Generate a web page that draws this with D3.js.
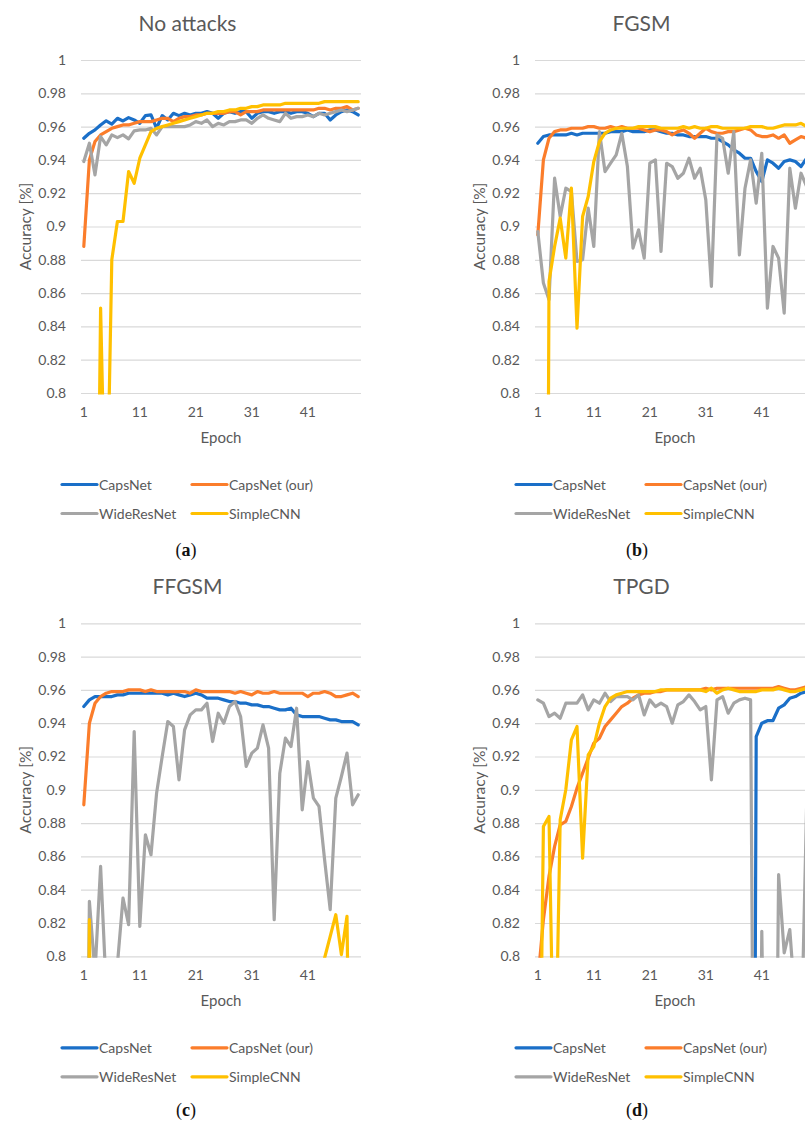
<!DOCTYPE html>
<html><head><meta charset="utf-8">
<script src="https://cdn.jsdelivr.net/npm/d3@7"></script>
<style>
body{margin:0;background:#fff}
svg{display:block}
text{font-family:Lato,"Open Sans",sans-serif;fill:#595959}
</style>
</head><body>
<svg id="chart" width="805" height="1124"></svg>
<script>
// ---------- data ----------
const epochs = [1,2,3,4,5,6,7,8,9,10,11,12,13,14,15,16,17,18,19,20,21,22,23,24,25,26,27,28,29,30,31,32,33,34,35,36,37,38,39,40,41,42,43,44,45,46,47,48,49,50];
const xTickLabels = [1,11,21,31,41];
const yTicks = [0.8,0.82,0.84,0.86,0.88,0.9,0.92,0.94,0.96,0.98,1];
const seriesNames = ["CapsNet","CapsNet (our)","WideResNet","SimpleCNN"];
const seriesColors = ["#1a6fc8","#fb7d2b","#a5a5a5","#ffc000"];
const panelTitles = ["No attacks","FGSM","FFGSM","TPGD"];
const panelCaptions = ["a","b","c","d"];

// (a) No attacks
const capsA = [0.953,0.956,0.958,0.961,0.9635,0.9615,0.965,0.9634,0.9654,0.964,0.962,0.9666,0.967,0.959,0.9666,0.964,0.968,0.9666,0.968,0.967,0.968,0.968,0.969,0.968,0.965,0.968,0.969,0.968,0.969,0.969,0.965,0.968,0.969,0.969,0.968,0.969,0.969,0.968,0.969,0.969,0.968,0.966,0.968,0.968,0.964,0.967,0.969,0.970,0.969,0.967];
const oursA = [0.888,0.940,0.951,0.955,0.957,0.959,0.960,0.961,0.961,0.962,0.963,0.963,0.963,0.964,0.965,0.965,0.963,0.965,0.966,0.966,0.967,0.967,0.968,0.968,0.968,0.968,0.969,0.969,0.967,0.969,0.969,0.969,0.970,0.970,0.970,0.970,0.970,0.970,0.970,0.970,0.970,0.970,0.971,0.971,0.970,0.971,0.971,0.972,0.970,0.971];
const wideA = [0.939,0.950,0.931,0.954,0.949,0.955,0.9534,0.955,0.9526,0.9574,0.958,0.958,0.959,0.955,0.960,0.960,0.960,0.960,0.960,0.961,0.963,0.962,0.964,0.960,0.962,0.961,0.963,0.963,0.964,0.964,0.962,0.965,0.967,0.965,0.964,0.963,0.968,0.965,0.966,0.966,0.967,0.966,0.968,0.967,0.968,0.969,0.970,0.969,0.970,0.971];
const simpleA = [0.30,0.45,0.55,0.851,0.70,0.880,0.903,0.903,0.933,0.926,0.941,0.949,0.957,0.959,0.960,0.961,0.962,0.963,0.964,0.965,0.966,0.967,0.968,0.968,0.969,0.969,0.970,0.970,0.971,0.971,0.972,0.972,0.973,0.973,0.973,0.973,0.974,0.974,0.974,0.974,0.974,0.974,0.974,0.975,0.975,0.975,0.975,0.975,0.975,0.975];

// (b) FGSM
const capsB = [0.950,0.954,0.955,0.955,0.955,0.955,0.956,0.955,0.956,0.956,0.956,0.956,0.956,0.957,0.957,0.957,0.958,0.957,0.957,0.957,0.958,0.958,0.957,0.956,0.956,0.955,0.955,0.954,0.954,0.954,0.954,0.953,0.953,0.951,0.949,0.946,0.944,0.941,0.941,0.933,0.927,0.940,0.938,0.935,0.939,0.940,0.939,0.936,0.941,0.942];
const oursB = [0.895,0.940,0.953,0.957,0.958,0.958,0.959,0.959,0.959,0.960,0.960,0.959,0.959,0.960,0.959,0.960,0.959,0.959,0.959,0.958,0.957,0.958,0.958,0.957,0.955,0.957,0.958,0.956,0.953,0.956,0.959,0.957,0.956,0.956,0.957,0.957,0.958,0.959,0.958,0.955,0.954,0.954,0.955,0.953,0.955,0.950,0.952,0.954,0.953,0.952];
const wideB = [0.897,0.866,0.856,0.929,0.906,0.923,0.921,0.879,0.880,0.911,0.888,0.957,0.933,0.938,0.943,0.956,0.936,0.887,0.898,0.881,0.938,0.940,0.885,0.938,0.936,0.929,0.932,0.941,0.929,0.935,0.916,0.864,0.955,0.953,0.932,0.957,0.883,0.923,0.940,0.914,0.944,0.851,0.888,0.881,0.848,0.935,0.911,0.932,0.924,0.930];
const simpleB = [0.20,0.10,0.867,0.888,0.905,0.881,0.923,0.839,0.906,0.918,0.939,0.951,0.956,0.958,0.959,0.959,0.959,0.959,0.960,0.960,0.960,0.960,0.959,0.959,0.959,0.959,0.960,0.959,0.960,0.959,0.959,0.960,0.960,0.959,0.959,0.959,0.959,0.959,0.960,0.960,0.960,0.959,0.959,0.960,0.961,0.961,0.961,0.962,0.960,0.958];

// (c) FFGSM
const capsC = [0.950,0.954,0.956,0.956,0.956,0.956,0.957,0.957,0.958,0.958,0.958,0.958,0.958,0.958,0.958,0.957,0.958,0.957,0.956,0.957,0.958,0.957,0.955,0.955,0.955,0.954,0.953,0.953,0.952,0.952,0.951,0.951,0.950,0.950,0.949,0.948,0.948,0.949,0.945,0.944,0.944,0.944,0.944,0.943,0.942,0.942,0.941,0.941,0.941,0.939];
const oursC = [0.891,0.940,0.952,0.956,0.958,0.959,0.959,0.959,0.960,0.960,0.960,0.959,0.960,0.959,0.959,0.959,0.959,0.959,0.959,0.958,0.960,0.959,0.959,0.959,0.959,0.959,0.959,0.958,0.959,0.958,0.957,0.959,0.958,0.958,0.959,0.958,0.958,0.958,0.958,0.958,0.956,0.958,0.958,0.959,0.958,0.956,0.956,0.957,0.958,0.956];
const wideC = [0.50,0.833,0.79,0.854,0.78,0.75,0.795,0.835,0.819,0.935,0.818,0.873,0.861,0.898,0.920,0.941,0.938,0.906,0.936,0.945,0.948,0.948,0.952,0.929,0.946,0.940,0.950,0.953,0.944,0.914,0.922,0.925,0.939,0.925,0.822,0.910,0.931,0.926,0.949,0.888,0.917,0.895,0.890,0.858,0.828,0.895,0.908,0.922,0.891,0.897];
const simpleC = [0.40,0.822,0.45,0.52,0.48,0.55,0.50,0.58,0.46,0.60,0.52,0.57,0.49,0.62,0.55,0.60,0.53,0.58,0.61,0.56,0.63,0.57,0.60,0.66,0.58,0.62,0.65,0.59,0.63,0.67,0.61,0.64,0.60,0.66,0.62,0.68,0.65,0.63,0.70,0.66,0.69,0.64,0.72,0.799,0.812,0.825,0.801,0.824,0.55,0.60];

// (d) TPGD
const capsD = [0.11,0.09,0.12,0.10,0.13,0.10,0.12,0.11,0.09,0.12,0.10,0.13,0.11,0.12,0.10,0.09,0.12,0.11,0.13,0.10,0.12,0.11,0.10,0.12,0.09,0.11,0.13,0.10,0.12,0.11,0.10,0.12,0.11,0.09,0.12,0.10,0.11,0.12,0.10,0.932,0.940,0.9415,0.9416,0.949,0.951,0.955,0.956,0.958,0.959,0.960];
const oursD = [0.785,0.822,0.848,0.866,0.879,0.881,0.890,0.901,0.910,0.919,0.928,0.931,0.938,0.942,0.946,0.950,0.952,0.955,0.957,0.958,0.958,0.959,0.959,0.960,0.960,0.960,0.960,0.960,0.960,0.960,0.961,0.960,0.961,0.961,0.961,0.961,0.961,0.961,0.961,0.961,0.961,0.961,0.961,0.962,0.961,0.960,0.960,0.961,0.962,0.962];
const wideD = [0.954,0.952,0.944,0.946,0.943,0.952,0.952,0.952,0.957,0.948,0.954,0.952,0.958,0.953,0.956,0.956,0.956,0.954,0.957,0.945,0.954,0.950,0.952,0.950,0.940,0.951,0.953,0.957,0.953,0.948,0.950,0.906,0.954,0.956,0.946,0.952,0.954,0.955,0.954,0.45,0.815,0.60,0.50,0.849,0.802,0.816,0.77,0.74,0.89,0.91];
const simpleD = [0.60,0.878,0.884,0.70,0.882,0.900,0.930,0.938,0.859,0.921,0.926,0.940,0.950,0.955,0.957,0.958,0.959,0.959,0.959,0.959,0.959,0.959,0.960,0.960,0.960,0.960,0.960,0.960,0.960,0.960,0.959,0.961,0.958,0.960,0.961,0.960,0.959,0.959,0.959,0.959,0.960,0.960,0.960,0.961,0.960,0.959,0.959,0.960,0.961,0.962];

const panelSeries = [
  [capsA, oursA, wideA, simpleA],
  [capsB, oursB, wideB, simpleB],
  [capsC, oursC, wideC, simpleC],
  [capsD, oursD, wideD, simpleD]
];

// ---------- layout ----------
const offsets = [[0,0],[454,0],[0,563.3],[454,563.3]];
const captionY = [550,550,1110,1110];
const captionX = [186,637,186,637];
const P = {left:81, right:361, top:60, bottom:393};

const svg = d3.select("#chart");
svg.append("rect").attr("width",805).attr("height",1124).attr("fill","#fff");

const x = d3.scaleBand().domain(epochs).range([P.left,P.right]).padding(0);
const y = d3.scaleLinear().domain([0.8,1]).range([P.bottom,P.top]);
const cx = d => x(d) + x.bandwidth()/2;

panelSeries.forEach((series, pi) => {
  const g = svg.append("g").attr("transform",`translate(${offsets[pi][0]},${offsets[pi][1]})`);

  const cid = "clip"+pi;
  g.append("clipPath").attr("id",cid).append("rect")
    .attr("x",P.left-10).attr("y",P.top-10).attr("width",P.right-P.left+20).attr("height",P.bottom-P.top+11.5);

  const yAxis = d3.axisLeft(y).tickValues(yTicks).tickSize(-(P.right-P.left)).tickPadding(15)
    .tickFormat(d => String(+d.toFixed(2)));
  const ya = g.append("g").attr("transform",`translate(${P.left},0)`).call(yAxis);
  ya.select(".domain").remove();
  ya.selectAll(".tick line").attr("stroke","#d9d9d9").attr("stroke-width",1.2);
  ya.selectAll(".tick text").style("font-size","14px").attr("fill","#595959")
    .style("font-family","Lato,'Open Sans',sans-serif");

  const xAxis = d3.axisBottom(x).tickValues(xTickLabels).tickSize(0).tickPadding(14);
  const xa = g.append("g").attr("transform",`translate(0,${P.bottom})`).call(xAxis);
  xa.select(".domain").remove();
  xa.selectAll(".tick text").style("font-size","14px").attr("fill","#595959")
    .style("font-family","Lato,'Open Sans',sans-serif");

  const line = d3.line().x((d,i)=>cx(epochs[i])).y(d=>y(d));
  const lg = g.append("g").attr("clip-path",`url(#${cid})`);
  series.forEach((vals, si) => {
    lg.append("path").datum(vals).attr("d",line)
      .attr("fill","none").attr("stroke",seriesColors[si]).attr("stroke-width",3.2)
      .attr("stroke-linejoin","round").attr("stroke-linecap","round");
  });

  g.append("text").attr("x",187.5).attr("y",31).attr("text-anchor","middle")
    .style("font-size","21px").text(panelTitles[pi]);
  g.append("text").attr("transform",`translate(25,${(P.top+P.bottom)/2}) rotate(-90)`)
    .attr("text-anchor","middle").attr("dominant-baseline","central")
    .style("font-size","15.5px").text("Accuracy [%]");
  g.append("text").attr("x",(P.left+P.right)/2).attr("y",443).attr("text-anchor","middle")
    .style("font-size","15px").text("Epoch");

  const legPos = [[62,484.5],[192,484.5],[62,513.5],[192,513.5]];
  seriesNames.forEach((nm, si) => {
    const [lx, ly] = legPos[si];
    g.append("line").attr("x1",lx).attr("x2",lx+35).attr("y1",ly).attr("y2",ly)
      .attr("stroke",seriesColors[si]).attr("stroke-width",3.2).attr("stroke-linecap","round");
    g.append("text").attr("x",lx+37).attr("y",ly).attr("dominant-baseline","central")
      .style("font-size","14px").text(nm);
  });
});

// captions
panelCaptions.forEach((c, i) => {
  const t = svg.append("text").attr("x",captionX[i]).attr("y",captionY[i])
    .attr("text-anchor","middle").attr("dominant-baseline","central")
    .style("font-family","'Liberation Serif','DejaVu Serif',serif").style("font-size","18px")
    .style("fill","#111");
  t.append("tspan").text("(").style("fill","#111");
  t.append("tspan").text(c).style("font-weight","bold").style("fill","#111");
  t.append("tspan").text(")").style("fill","#111");
});
</script>
</body></html>
